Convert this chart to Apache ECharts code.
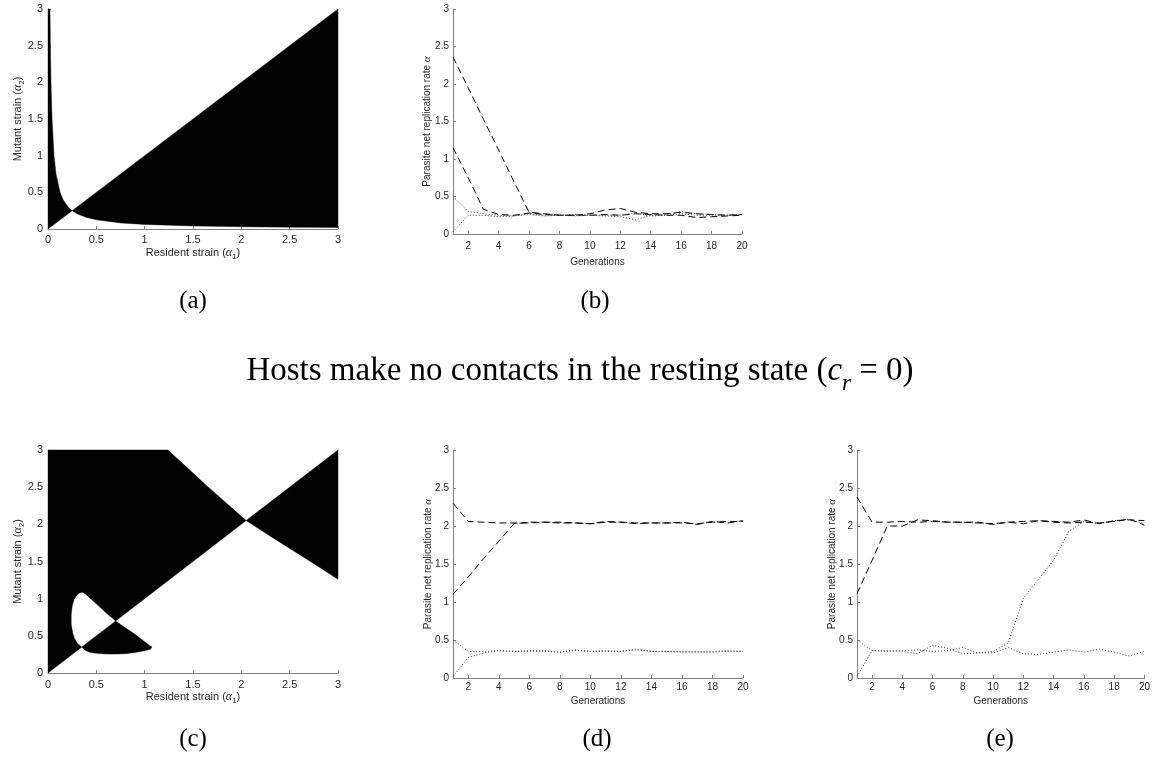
<!DOCTYPE html>
<html>
<head>
<meta charset="utf-8">
<script src="https://cdn.jsdelivr.net/npm/echarts@6/dist/echarts.min.js"></script>
<style>html,body{margin:0;padding:0;background:#fff}#chart{width:1153px;height:760px}</style>
</head>
<body>
<div id="chart"></div>
<script>
// ---------- data ----------
const generations = [1,2,3,4,5,6,7,8,9,10,11,12,13,14,15,16,17,18,19,20];
const generationTicks = [2,4,6,8,10,12,14,16,18,20];

// panel (a): invasion regions (resident alpha1, mutant alpha2)
const aLeftRegion = [[0,0],[0,3],[0.021,3],[0.025,2.5],[0.031,2],[0.042,1.5],[0.0625,1],[0.083,0.75],[0.125,0.5],[0.156,0.4],[0.208,0.3],[0.25,0.25]];
const aRightRegion = [[0.25,0.25],[3,3],[3,0.021],[2.5,0.025],[2,0.031],[1.5,0.042],[1,0.0625],[0.75,0.083],[0.5,0.125],[0.4,0.156],[0.3,0.208]];

// panel (c): invasion regions
const cUpperRegion = [[0,0],[0,3],[1.24,3],[1.45,2.75],[1.65,2.51],[1.85,2.28],[2.05,2.05],[0.7,0.7],[0.6,0.81],[0.5,0.93],[0.45,0.99],[0.4,1.05],[0.36,1.085],[0.33,1.08],[0.3,1.05],[0.27,0.99],[0.25,0.9],[0.24,0.78],[0.24,0.66],[0.255,0.54],[0.275,0.46],[0.31,0.39],[0.35,0.35]];
const cLobeRegion = [[0.35,0.35],[0.7,0.7],[0.8,0.61],[0.9,0.52],[0.99,0.43],[1.04,0.38],[1.076,0.35],[1.06,0.32],[1.0,0.3],[0.9,0.275],[0.8,0.26],[0.7,0.255],[0.6,0.255],[0.5,0.265],[0.43,0.28],[0.38,0.31]];
const cRightRegion = [[2.05,2.05],[3,3],[3,1.26],[2.8,1.43],[2.55,1.635],[2.3,1.84]];

// panel (b): c_r = 0 trajectories
const bDashHigh = [2.36,1.95,1.53,1.12,0.70,0.29,0.27,0.25,0.25,0.27,0.32,0.34,0.29,0.27,0.27,0.29,0.27,0.26,0.25,0.26];
const bDashLow  = [1.15,0.75,0.33,0.26,0.25,0.28,0.26,0.25,0.25,0.25,0.26,0.25,0.27,0.26,0.25,0.25,0.22,0.23,0.24,0.25];
const bDotHigh  = [0.50,0.30,0.27,0.25,0.24,0.27,0.25,0.25,0.26,0.25,0.24,0.23,0.19,0.25,0.26,0.30,0.27,0.26,0.25,0.26];
const bDotLow   = [0.03,0.25,0.25,0.23,0.24,0.26,0.24,0.25,0.24,0.25,0.25,0.25,0.28,0.24,0.25,0.27,0.25,0.25,0.25,0.26];

// panel (d)
const dDashHigh = [2.30,2.06,2.05,2.04,2.04,2.04,2.05,2.05,2.04,2.03,2.05,2.05,2.04,2.04,2.04,2.04,2.03,2.05,2.06,2.06];
const dDashLow  = [1.10,1.33,1.57,1.80,2.03,2.05,2.05,2.04,2.04,2.03,2.06,2.05,2.03,2.04,2.04,2.05,2.02,2.06,2.04,2.07];
const dDotHigh  = [0.50,0.35,0.35,0.36,0.35,0.35,0.35,0.34,0.37,0.35,0.35,0.35,0.38,0.35,0.35,0.35,0.35,0.35,0.36,0.35];
const dDotLow   = [0.02,0.27,0.33,0.36,0.35,0.36,0.36,0.34,0.36,0.35,0.36,0.35,0.37,0.35,0.35,0.34,0.34,0.34,0.35,0.35];

// panel (e)
const eDashHigh = [2.38,2.05,2.05,2.06,2.05,2.06,2.05,2.05,2.04,2.03,2.05,2.06,2.07,2.06,2.05,2.08,2.03,2.07,2.08,2.07];
const eDashLow  = [1.11,1.55,2.00,2.00,2.08,2.07,2.05,2.05,2.05,2.02,2.05,2.03,2.07,2.05,2.04,2.05,2.04,2.06,2.09,2.01];
const eDotHigh  = [0.50,0.36,0.36,0.35,0.32,0.43,0.39,0.32,0.33,0.33,0.40,0.32,0.31,0.34,0.37,0.34,0.38,0.34,0.29,0.35];
const eDotLow   = [0.02,0.36,0.35,0.36,0.37,0.35,0.36,0.40,0.33,0.35,0.46,1.05,1.30,1.55,1.93,2.06,2.03,2.07,2.09,2.03];

// ---------- styling helpers ----------
const SANS = '"Liberation Sans", Arial, sans-serif';
const SERIF = '"Liberation Serif", "DejaVu Serif", serif';
const AXIS_COLOR = '#808080';
const TEXT_COLOR = '#262626';

function nameRich(fs) {
  return {
    t: {fontFamily: SANS, fontSize: fs, color: TEXT_COLOR, lineHeight: fs + 1, verticalAlign: 'top'},
    a: {fontFamily: SERIF, fontStyle: 'italic', fontSize: fs + 1, color: TEXT_COLOR, lineHeight: fs + 1, verticalAlign: 'top'},
    s: {fontFamily: SANS, fontSize: fs - 3, color: TEXT_COLOR, lineHeight: fs - 3, verticalAlign: 'top', padding: [6, 0, 0, 0]}
  };
}

function axisBase(gridIndex, fs, extra) {
  return Object.assign({
    gridIndex: gridIndex,
    type: 'value',
    axisLine: {show: true, onZero: false, lineStyle: {color: AXIS_COLOR, width: 1}},
    axisTick: {show: true, inside: true, length: 3, lineStyle: {color: AXIS_COLOR}},
    axisLabel: {fontFamily: SANS, fontSize: fs, color: TEXT_COLOR},
    splitLine: {show: false},
    nameLocation: 'middle',
    nameMoveOverlap: false,
    nameTextStyle: {rich: nameRich(fs)}
  }, extra);
}

function strainX(g, gap, margin) {
  const ax = axisBase(g, 11, {min: 0, max: 3, interval: 0.5, name: '{t|Resident strain (}{a|α}{s|1}{t|)}', nameGap: gap});
  ax.axisLabel.margin = margin;
  return ax;
}
function strainY(g, gap) {
  const ax = axisBase(g, 11, {min: 0, max: 3, interval: 0.5, name: '{t|Mutant strain (}{a|α}{s|2}{t|)}', nameGap: gap});
  ax.axisLabel.margin = 5;
  return ax;
}
function genX(g, gap, margin) {
  const ax = axisBase(g, 10, {min: 1, max: 20, name: '{t|Generations}', nameGap: gap});
  ax.axisLabel.customValues = generationTicks;
  ax.axisTick.customValues = generationTicks;
  ax.axisLabel.margin = margin;
  return ax;
}
function rateY(g, gap) {
  const ax = axisBase(g, 10, {min: 0, max: 3, interval: 0.5, name: '{t|Parasite net replication rate }{a|α}', nameGap: gap});
  ax.axisLabel.margin = 4;
  return ax;
}

function regionSeries(g, regions) {
  return {
    type: 'custom',
    xAxisIndex: g, yAxisIndex: g,
    silent: true,
    data: regions.map((r, i) => [r[0][0], r[0][1], i]),
    renderItem: function (params, api) {
      const poly = regions[api.value(2)];
      return {
        type: 'polygon',
        shape: {points: poly.map(p => api.coord(p))},
        style: {fill: '#000', stroke: '#000', lineWidth: 0.4}
      };
    }
  };
}

function lineSeries(g, values, dashed) {
  return {
    type: 'line',
    xAxisIndex: g, yAxisIndex: g,
    data: generations.map((x, i) => [x, values[i]]),
    symbol: 'none',
    silent: true,
    lineStyle: dashed
      ? {color: '#000', width: 1, type: [7, 4]}
      : {color: '#3a3a3a', width: 1, type: [1, 2]}
  };
}

function label(text, x, y, size) {
  return {
    type: 'text', x: x, y: y,
    style: {
      text: text, align: 'center', verticalAlign: 'middle',
      rich: {
        n: {fontFamily: SERIF, fontSize: size, fill: '#000', lineHeight: size + 2, verticalAlign: 'top'},
        i: {fontFamily: SERIF, fontStyle: 'italic', fontSize: size, fill: '#000', lineHeight: size + 2, verticalAlign: 'top'},
        s: {fontFamily: SERIF, fontStyle: 'italic', fontSize: Math.round(size * 0.7), fill: '#000', lineHeight: Math.round(size * 0.7), verticalAlign: 'top', padding: [Math.round(size * 0.55), 0, 0, 0]}
      }
    }
  };
}

const option = {
  animation: false,
  backgroundColor: '#fff',
  grid: [
    {left: 48, top: 9, width: 290, height: 220},
    {left: 453, top: 9, width: 289, height: 225},
    {left: 48, top: 450, width: 290, height: 223},
    {left: 453, top: 450, width: 290, height: 228},
    {left: 857, top: 450, width: 290, height: 228}
  ],
  xAxis: [strainX(0, 18, 5), genX(1, 23, 7), strainX(2, 18, 6), genX(3, 18, 4), genX(4, 18, 4)],
  yAxis: [strainY(0, 24), rateY(1, 20), strainY(2, 24), rateY(3, 19), rateY(4, 19)],
  series: [
    regionSeries(0, [aLeftRegion, aRightRegion]),
    lineSeries(1, bDashHigh, true), lineSeries(1, bDashLow, true),
    lineSeries(1, bDotHigh, false), lineSeries(1, bDotLow, false),
    regionSeries(2, [cUpperRegion, cLobeRegion, cRightRegion]),
    lineSeries(3, dDashHigh, true), lineSeries(3, dDashLow, true),
    lineSeries(3, dDotHigh, false), lineSeries(3, dDotLow, false),
    lineSeries(4, eDashHigh, true), lineSeries(4, eDashLow, true),
    lineSeries(4, eDotHigh, false), lineSeries(4, eDotLow, false)
  ],
  graphic: [
    label('{n|(a)}', 193, 302, 25),
    label('{n|(b)}', 595, 302, 25),
    label('{n|Hosts make no contacts in the resting state (}{i|c}{s|r}{n| = 0)}', 580, 372, 33),
    label('{n|(c)}', 193, 740, 25),
    label('{n|(d)}', 597, 740, 25),
    label('{n|(e)}', 1000, 740, 25)
  ]
};

const chart = echarts.init(document.getElementById('chart'), null, {renderer: 'canvas'});
chart.setOption(option);
</script>
</body>
</html>
